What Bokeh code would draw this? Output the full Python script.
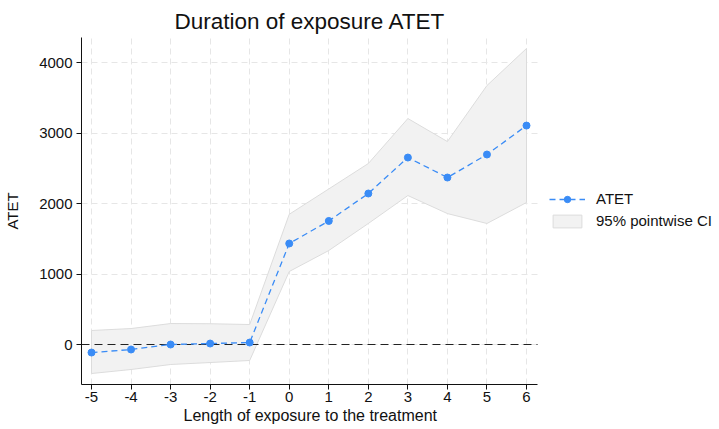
from bokeh.plotting import figure
from bokeh.models import Legend, LegendItem, FixedTicker, Range1d, Title
from bokeh.embed import file_html
from bokeh.resources import INLINE

exposure = [-5, -4, -3, -2, -1, 0, 1, 2, 3, 4, 5, 6]
atet = [-114, -71, 0, 14, 28, 1435, 1755, 2145, 2656, 2372, 2699, 3110]
ci_upper = [199, 227, 298, 295, 284, 1850, 2210, 2571, 3210, 2883, 3679, 4205]
ci_lower = [-412, -355, -284, -256, -227, 1037, 1335, 1719, 2116, 1860, 1719, 2017]
y_ticks = [0, 1000, 2000, 3000, 4000]
x_labels = {t: str(t) for t in exposure}

# plot-area limits (x axis drawn only to X_AXIS_END; space to its right holds the legend)
X_START, X_AXIS_END, X_END = -5.253, 6.278, 10.88
Y_START, Y_END = -568, 4361

FONT = "Liberation Sans"
BLUE = "#3a8cf6"

p = figure(width=719, height=429, output_backend="svg", toolbar_location=None,
           x_range=Range1d(X_START, X_END), y_range=Range1d(Y_START, Y_END))
p.min_border_left = 81
p.min_border_right = 0
p.min_border_top = 37
p.min_border_bottom = 45
p.outline_line_color = None
p.background_fill_color = "white"
p.border_fill_color = "white"

title = Title(text="Duration of exposure ATET", align="left", offset=93,
              text_font=FONT, text_font_size="22.5px", text_font_style="normal",
              text_color="#111111", standoff=7)
p.add_layout(title, "above")

xlabel = Title(text="Length of exposure to the treatment", align="left", offset=102,
               text_font=FONT, text_font_size="16px", text_font_style="normal",
               text_color="#111111", standoff=0, text_line_height=0.8,
               vertical_align="bottom")
p.add_layout(xlabel, "below")

# CI band
band_x = exposure + exposure[::-1]
band_y = ci_upper + ci_lower[::-1]
band = p.patch(band_x, band_y, fill_color="#f2f2f2", line_color="#dcdcdc", line_width=1)

# zero reference line
p.line([X_START, X_AXIS_END], [0, 0], line_color="#222222", line_dash="8 5", line_width=1.2)

line = p.line(exposure, atet, line_color=BLUE, line_width=1.3, line_dash="6 4")
pts = p.scatter(exposure, atet, size=7, fill_color=BLUE, line_color=BLUE)

# axes
for ax in (p.xaxis, p.yaxis):
    ax.axis_line_color = "#111111"
    ax.major_tick_line_color = "#111111"
    ax.major_tick_out = 5
    ax.major_tick_in = 0
    ax.minor_tick_line_color = None
    ax.major_label_text_font = FONT
    ax.major_label_text_font_size = "15px"
    ax.major_label_text_color = "#111111"
    ax.axis_label_text_font = FONT
    ax.axis_label_text_font_size = "15px"
    ax.axis_label_text_font_style = "normal"
    ax.axis_label_text_color = "#111111"

p.xaxis.ticker = FixedTicker(ticks=exposure)
p.xaxis.major_label_overrides = x_labels
p.xaxis.bounds = (X_START, X_AXIS_END)
p.xaxis.major_label_standoff = 2
p.yaxis.ticker = FixedTicker(ticks=y_ticks)
p.yaxis.axis_label = "ATET"
p.yaxis.major_label_standoff = 4
p.yaxis.axis_label_standoff = 15
p.yaxis.major_label_orientation = "horizontal"

for g in (p.xgrid, p.ygrid):
    g.grid_line_color = "#e6e6e6"
    g.grid_line_dash = "6 4"
    g.grid_line_width = 1
p.ygrid.cross_bounds = (X_START, X_AXIS_END)

legend = Legend(items=[LegendItem(label="ATET", renderers=[line, pts]),
                       LegendItem(label="95% pointwise CI", renderers=[band])],
                location=(468, 155))
legend.border_line_color = None
legend.background_fill_alpha = 0
legend.padding = 0
legend.margin = 0
legend.spacing = 5
legend.glyph_width = 36
legend.glyph_height = 16
legend.label_height = 16
legend.label_standoff = 11
legend.label_text_font = FONT
legend.label_text_font_size = "15px"
legend.label_text_color = "#111111"
p.add_layout(legend, "center")

open("out.html", "w").write(file_html(p, INLINE))
